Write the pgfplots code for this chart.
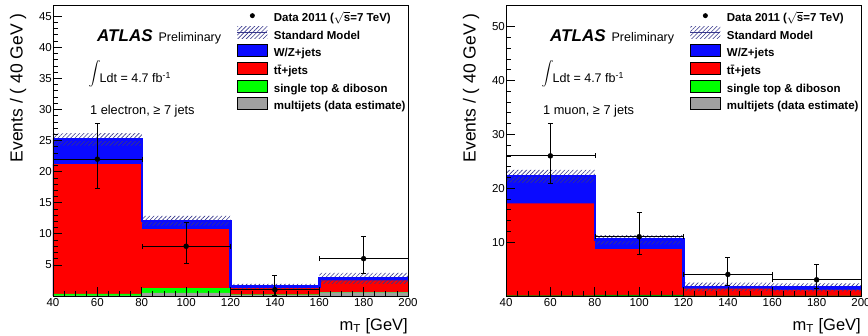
\documentclass[border=0pt]{standalone}
\usepackage{fontspec}
\setmainfont{Liberation Sans}
\usepackage{pgfplots}
\pgfplotsset{compat=1.18}
\usetikzlibrary{patterns.meta}
\definecolor{wzblue}{RGB}{10,10,255}
\definecolor{ttred}{RGB}{255,0,0}
\definecolor{stgreen}{RGB}{0,255,0}
\definecolor{mjgray}{RGB}{160,160,160}
\definecolor{hatchc}{RGB}{55,55,140}

\pgfplotsset{
 atlas/.style={
  scale only axis, width=355pt, height=291pt,
  xmin=40, xmax=200, ymin=0,
  xtick={40,60,...,200}, minor x tick num=3,
  xtick pos=bottom, ytick pos=left,
  tick align=inside, axis on top,
  major tick length=9pt, minor tick length=4.5pt,
  every tick/.append style={black, line width=0.7pt},
  axis line style={line width=0.8pt},
  /pgf/number format/assume math mode=true,
  tick label style={font=\fontsize{11.5}{13}\selectfont},
  xticklabel style={inner sep=1pt, yshift=-1pt},
  yticklabel style={inner sep=1pt},
  xlabel={m\textsubscript{T} [GeV]},
  xlabel style={at={(axis description cs:1,-0.117)}, anchor=base east, font=\fontsize{16.5}{19}\selectfont, inner sep=0pt},
  ylabel={Events / ( 40 GeV )},
  ylabel style={at={(axis description cs:-0.0986,0.715)}, anchor=center, font=\fontsize{17.5}{19}\selectfont, inner sep=0pt},
  legend style={at={(axis description cs:0.518,0.984)}, anchor=north west, draw=none, fill=none, inner sep=0pt, outer sep=0pt,
    font=\bfseries\fontsize{11.5}{13}\selectfont, nodes={inner sep=0pt, outer sep=0pt, text height=10.2pt, text depth=6pt}, row sep=-0.9pt, column sep=6pt},
  legend cell align=left,
 },
 errs/.style={black, only marks, mark=*, mark size=2.5pt, forget plot,
   error bars/.cd, x dir=both, x explicit, y dir=both, y explicit,
   error bar style={line width=1.2pt, black}},
}

\newcommand{\legendentries}{%
  \addlegendimage{legend image code/.code={\fill[black, draw=none] (15pt,4.1pt) circle (2.5pt); \path[draw=none, fill=none] (0pt,-1.9pt) rectangle (30pt,10.1pt);}}
  \addlegendentry{Data 2011 (\(\sqrt{\mbox{s}}\)=7 TeV)}
  \addlegendimage{legend image code/.code={\fill[draw=none, pattern={Lines[angle=45,distance=3pt,line width=0.6pt]}, pattern color=hatchc] (0pt,-1.9pt) rectangle (30pt,10.1pt); \draw[hatchc, line width=1pt] (0pt,4.1pt) -- (30pt,4.1pt);}}
  \addlegendentry{Standard Model}
  \addlegendimage{legend image code/.code={\filldraw[fill=wzblue, draw=black, line width=0.8pt] (0pt,-1.9pt) rectangle (30pt,10.1pt);}}
  \addlegendentry{W/Z+jets}
  \addlegendimage{legend image code/.code={\filldraw[fill=ttred, draw=black, line width=0.8pt] (0pt,-1.9pt) rectangle (30pt,10.1pt);}}
  \addlegendentry{t\={t}+jets}
  \addlegendimage{legend image code/.code={\filldraw[fill=stgreen, draw=black, line width=0.8pt] (0pt,-1.9pt) rectangle (30pt,10.1pt);}}
  \addlegendentry{single top \& diboson}
  \addlegendimage{legend image code/.code={\filldraw[fill=mjgray, draw=black, line width=0.8pt] (0pt,-1.9pt) rectangle (30pt,10.1pt);}}
  \addlegendentry{multijets (data estimate)}
}

\newcommand{\atlastext}[1]{%
  \node[anchor=base west, inner sep=0pt] at (axis description cs:0.124,0.873)
    {\fontsize{17}{19}\selectfont\bfseries\itshape ATLAS\hspace{6pt}\mdseries\upshape\fontsize{12.5}{14}\selectfont Preliminary};
  \node[anchor=base west, inner sep=0pt] at (axis description cs:0.1,0.732)
    {\fontsize{12.5}{14}\selectfont\raisebox{6pt}{\scalebox{1.2}{$\displaystyle\int$}}\hspace{-1pt}Ldt = 4.7 fb\textsuperscript{-1}};
  \node[anchor=base west, inner sep=0pt] at (axis description cs:0.104,0.625)
    {\fontsize{12.8}{14}\selectfont #1};
}

\begin{document}
\begin{tikzpicture}
\useasboundingbox (0,0) rectangle (868pt,336pt);

% ---------------- electron channel ----------------
\begin{axis}[atlas, at={(53pt,40pt)}, anchor=south west,
  ymax=46.8, ytick={5,10,...,45}, minor y tick num=4]
 % cumulative stack: W/Z+jets top
 \addplot[fill=wzblue, draw=none, const plot, forget plot] coordinates {(40,25.2) (80,12.1) (120,1.55) (160,2.8) (200,2.8)} \closedcycle;
 \addplot[fill=ttred, draw=none, const plot, forget plot] coordinates {(40,21.2) (80,10.75) (120,1.3) (160,2.5) (200,2.5)} \closedcycle;
 \addplot[fill=stgreen, draw=none, const plot, forget plot] coordinates {(40,0.35) (80,1.25) (120,0.25) (160,0.62) (200,0.62)} \closedcycle;
 \addplot[fill=mjgray, draw=none, const plot, forget plot] coordinates {(40,0.05) (80,0.5) (120,0.2) (160,0.6) (200,0.6)} \closedcycle;
 % SM uncertainty band
 \addplot[draw=none, pattern={Lines[angle=45,distance=3pt,line width=0.6pt]}, pattern color=hatchc, forget plot] coordinates {
  (40,26.2) (80,26.2) (80,12.9) (120,12.9) (120,1.95) (160,1.95) (160,3.7) (200,3.7)
  (200,1.95) (160,1.95) (160,1.15) (120,1.15) (120,11.3) (80,11.3) (80,24.2) (40,24.2)} -- cycle;
 \addplot[wzblue, line width=2.5pt, const plot, forget plot] coordinates {(40,25.2) (80,12.1) (120,1.55) (160,2.8) (200,2.8)};
 % data
 \addplot[errs] coordinates {
  (60,22) += (20,5.76) -= (20,4.65)
  (100,8) += (20,3.94) -= (20,2.76)
  (140,1) += (20,2.30) -= (20,0.83)
  (180,6) += (20,3.58) -= (20,2.38)};
 \legendentries
 \atlastext{1 electron, ≥ 7 jets}
\end{axis}

% ---------------- muon channel ----------------
\begin{axis}[atlas, at={(506pt,40pt)}, anchor=south west,
  ymax=54, ytick={10,20,...,50}, minor y tick num=4]
 \addplot[fill=wzblue, draw=none, const plot, forget plot] coordinates {(40,22.3) (80,10.5) (120,1.7) (160,1.6) (200,1.6)} \closedcycle;
 \addplot[fill=ttred, draw=none, const plot, forget plot] coordinates {(40,17.2) (80,8.7) (120,1.35) (160,1.15) (200,1.15)} \closedcycle;
 \addplot[fill=stgreen!60!black, draw=none, const plot, forget plot] coordinates {(40,0.1) (80,0.2) (120,0.05) (160,0.05) (200,0.05)} \closedcycle;
 \addplot[draw=none, pattern={Lines[angle=45,distance=3pt,line width=0.6pt]}, pattern color=hatchc, forget plot] coordinates {
  (40,23.4) (80,23.4) (80,11.3) (120,11.3) (120,2.5) (160,2.5) (160,2.35) (200,2.35)
  (200,0.85) (160,0.85) (160,0.9) (120,0.9) (120,9.6) (80,9.6) (80,21.0) (40,21.0)} -- cycle;
 \addplot[wzblue, line width=2.5pt, const plot, forget plot] coordinates {(40,22.3) (80,10.5) (120,1.7) (160,1.6) (200,1.6)};
 \addplot[errs] coordinates {
  (60,26) += (20,6.14) -= (20,5.07)
  (100,11) += (20,4.47) -= (20,3.26)
  (140,4) += (20,3.16) -= (20,1.91)
  (180,3) += (20,2.92) -= (20,1.63)};
 \legendentries
 \atlastext{1 muon, ≥ 7 jets}
\end{axis}
\end{tikzpicture}
\end{document}
